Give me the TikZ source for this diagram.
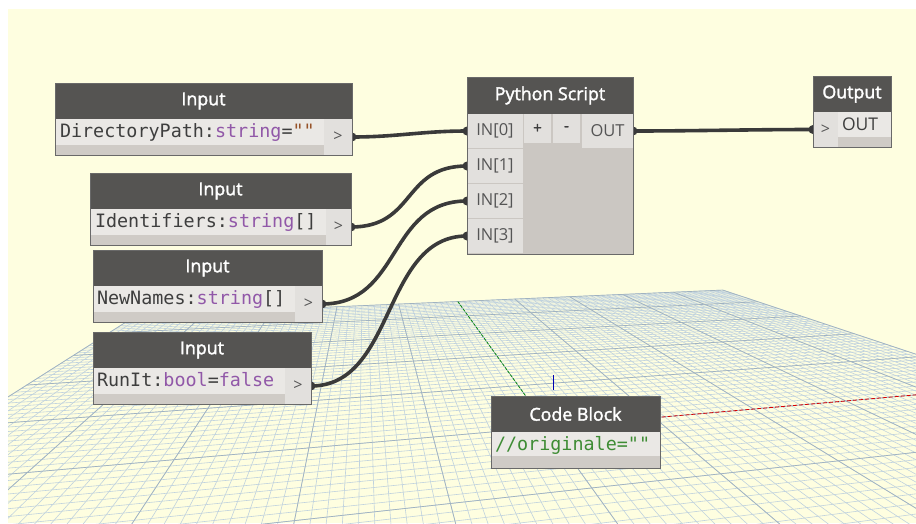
\documentclass[tikz,border=0pt]{standalone}
\usepackage{fontspec}
\setmainfont{Open Sans}
\newfontfamily\titlefont{Open Sans}[FakeBold=2]
\newfontfamily\codefont{DejaVu Sans Mono}
\usetikzlibrary{fit}
\pgfdeclarelayer{gridlayer}
\pgfdeclarelayer{wirelayer}
\pgfsetlayers{gridlayer,wirelayer,main}
\definecolor{bgc}{RGB}{254,254,224}
\definecolor{hdrc}{RGB}{85,84,82}
\definecolor{fieldc}{RGB}{234,232,229}
\definecolor{portc}{RGB}{226,224,221}
\definecolor{stripc}{RGB}{207,203,198}
\definecolor{bodyc}{RGB}{203,199,194}
\definecolor{edgec}{RGB}{105,105,105}
\definecolor{wirec}{RGB}{58,58,58}
\definecolor{txtc}{RGB}{62,62,62}
\definecolor{labc}{RGB}{85,85,85}
\definecolor{typec}{RGB}{145,88,168}
\definecolor{strc}{RGB}{150,82,40}
\definecolor{codec}{RGB}{62,140,52}
\definecolor{gminc}{RGB}{192,210,222}
\definecolor{gmajc}{RGB}{160,178,192}
\begin{document}
\begin{tikzpicture}[x=1pt,y=-1pt,
  declare function={
    hx(\p,\q)=(548+\p*13.1208+\q*7.0)/(1+\p/265+\q/52);
    hy(\p,\q)=(427+\p*0.64528+\q*3.28846)/(1+\p/265+\q/52);
  },
  base/.style={inner sep=0pt, outer sep=0pt, anchor=north west},
  hdr/.style={base, fill=hdrc, text=white, font=\titlefont\fontsize{17.8}{20}\selectfont, minimum height=36pt},
  strip/.style={base, fill=stripc, minimum height=36pt},
  fld/.style={base, fill=fieldc, minimum height=26pt},
  prt/.style={base, fill=portc, text=labc, font=\fontsize{16}{18}\selectfont, minimum height=36pt},
  codetxt/.style={inner sep=0pt, outer sep=0pt, anchor=base west, text=txtc, font=\codefont\fontsize{18.4}{20}\selectfont},
  pin/.style={base, fill=portc, text=labc, font=\fontsize{16.5}{18}\selectfont, minimum height=34pt},
  pbtn/.style={base, fill=portc, text=txtc, font=\titlefont\fontsize{15}{16}\selectfont, minimum width=27pt, minimum height=29pt},
  pbody/.style={base, fill=bodyc},
  frame/.style={draw=edgec, line width=0.8pt, inner sep=0pt, outer sep=0pt},
  wire/.style={draw=wirec, line width=3.6pt},
  dot/.style={fill=wirec},
  gmin/.style={draw=gminc, line width=0.6pt},
  gmaj/.style={draw=gmajc, line width=0.7pt},
]
\useasboundingbox (0,0) rectangle (916,523);

% ---------- background and perspective grid ----------
\begin{pgfonlayer}{gridlayer}
\fill[bgc] (8,9) rectangle (916,523);
\begin{scope}
\clip (8,9) rectangle (916,523);
\foreach \i in {-50,...,50}
  \draw[gmin] ({hx(\i,-20)},{hy(\i,-20)}) -- ({hx(\i,50)},{hy(\i,50)});
\foreach \i in {-20,...,50}
  \draw[gmin] ({hx(-50,\i)},{hy(-50,\i)}) -- ({hx(50,\i)},{hy(50,\i)});
\foreach \i in {-50,-40,...,50}
  \draw[gmaj] ({hx(\i,-20)},{hy(\i,-20)}) -- ({hx(\i,50)},{hy(\i,50)});
\foreach \i in {-20,-10,...,50}
  \draw[gmaj] ({hx(-50,\i)},{hy(-50,\i)}) -- ({hx(50,\i)},{hy(50,\i)});
\draw[green!55!black, line width=0.7pt, dash pattern=on 3pt off 1.5pt] ({hx(0,50)},{hy(0,50)}) -- (548,427);
\draw[red!85!black, line width=0.8pt, dash pattern=on 4pt off 2pt] (548,427) -- ({hx(60,0)},{hy(60,0)});
\draw[blue!70!black, line width=0.7pt] (553,375) -- (553,390);
\end{scope}
\end{pgfonlayer}

% ---------- Input 1 ----------
\node[hdr, minimum width=297pt] (i1h) at (55,83) {Input};
\node[strip, minimum width=297pt] (i1b) at (55,119) {};
\node[fld, minimum width=269pt] (i1f) at (55,119) {};
\node[prt, minimum width=28pt] (i1p) at (324,119) {>};
\node[codetxt] (i1t) at (60,137.5) {DirectoryPath:\textcolor{typec}{string}=\textcolor{strc}{\symbol{34}\symbol{34}}};
\node[frame, fit=(i1h)(i1b)] (i1) {};

% ---------- Input 2 ----------
\node[hdr, minimum width=261pt] (i2h) at (90,173) {Input};
\node[strip, minimum width=261pt] (i2b) at (90,209) {};
\node[fld, minimum width=236pt] (i2f) at (90,209) {};
\node[prt, minimum width=25pt] (i2p) at (326,209) {>};
\node[codetxt] (i2t) at (95,227.5) {Identifiers:\textcolor{typec}{string}[]};
\node[frame, fit=(i2h)(i2b)] (i2) {};

% ---------- Input 3 ----------
\node[hdr, minimum width=229pt] (i3h) at (93,250) {Input};
\node[strip, minimum width=229pt] (i3b) at (93,286) {};
\node[fld, minimum width=202pt] (i3f) at (93,286) {};
\node[prt, minimum width=27pt] (i3p) at (295,286) {>};
\node[codetxt] (i3t) at (97,304.5) {NewNames:\textcolor{typec}{string}[]};
\node[frame, fit=(i3h)(i3b)] (i3) {};

% ---------- Input 4 ----------
\node[hdr, minimum width=218pt] (i4h) at (93,332) {Input};
\node[strip, minimum width=218pt] (i4b) at (93,368) {};
\node[fld, minimum width=192pt] (i4f) at (93,368) {};
\node[prt, minimum width=26pt] (i4p) at (285,368) {>};
\node[codetxt] (i4t) at (97,386.5) {RunIt:\textcolor{typec}{bool}=\textcolor{typec}{false}};
\node[frame, fit=(i4h)(i4b)] (i4) {};

% ---------- Python Script ----------
\node[hdr, minimum width=166pt, minimum height=37pt] (pyh) at (467,77) {Python Script};
\node[pbody, minimum width=166pt, minimum height=140pt] (pyb) at (467,114) {};
\node[pin, minimum width=56pt] (in0) at (467,114) {IN[0]};
\node[pin, minimum width=56pt] (in1) at (467,149) {IN[1]};
\node[pin, minimum width=56pt] (in2) at (467,184) {IN[2]};
\node[pin, minimum width=56pt] (in3) at (467,219) {IN[3]};
\node[pbtn] (plus) at (524,114) {+};
\node[pbtn] (minus) at (553,114) {-};
\node[pin, minimum width=51pt] (pout) at (582,114) {OUT};
\node[frame, fit=(pyh)(pyb)] (py) {};

% ---------- Output ----------
\node[hdr, minimum width=78pt, minimum height=36pt] (oh) at (813,76) {Output};
\node[strip, minimum width=78pt, minimum height=35pt] (ob) at (813,112) {};
\node[prt, minimum width=25pt, minimum height=35pt] (oin) at (813,112) {>};
\node[fld, minimum width=53pt, minimum height=25pt] (of) at (838,112) {};
\node[inner sep=0pt, outer sep=0pt, anchor=base west, text=txtc, font=\fontsize{17.5}{18}\selectfont] (ot) at (842,130) {OUT};
\node[frame, fit=(oh)(ob)] (outn) {};

% ---------- Code Block ----------
\node[hdr, minimum width=169pt] (ch) at (491,396) {Code Block};
\node[strip, minimum width=169pt] (cb) at (491,432) {};
\node[fld, minimum width=169pt, minimum height=24pt] (cf) at (491,432) {};
\node[codetxt, text=codec] (ct) at (495,450.5) {//originale=\symbol{34}\symbol{34}};
\node[frame, fit=(ch)(cb)] (cbk) {};

% ---------- wires ----------
\begin{pgfonlayer}{wirelayer}
\draw[wire] (i1p.east) .. controls +(45,0) and +(-45,0) .. (in0.west);
\draw[wire] (i2p.east) .. controls +(65,0) and +(-65,0) .. (in1.west);
\draw[wire] (i3p.east) .. controls +(80,0) and +(-80,0) .. (in2.west);
\draw[wire] (i4p.east) .. controls +(85,0) and +(-85,0) .. (in3.west);
\draw[wire] (pout.east) .. controls +(60,0) and +(-60,0) .. (oin.west);
\foreach \n in {i1p.east,i2p.east,i3p.east,i4p.east,pout.east,in0.west,in1.west,in2.west,in3.west,oin.west}
  \fill[dot] (\n) circle (4.5pt);
\end{pgfonlayer}
\end{tikzpicture}
\end{document}
